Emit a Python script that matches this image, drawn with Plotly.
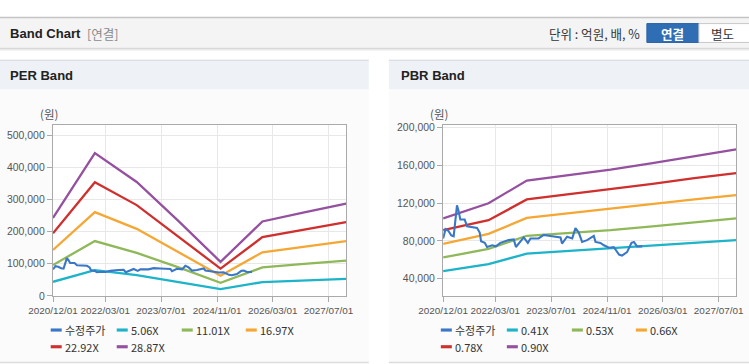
import plotly.graph_objects as go

# ---------------- data ----------------
price_dates = ["2020-12-01", "2020-12-22", "2021-01-15", "2021-02-10", "2021-03-03", "2021-04-01",
               "2021-04-15", "2021-04-30", "2021-06-07", "2021-06-28", "2021-09-23", "2021-10-16",
               "2021-10-28", "2021-11-29", "2021-12-19", "2022-02-02", "2022-03-06", "2022-04-14",
               "2022-06-25", "2022-08-09", "2022-08-28", "2022-10-06", "2022-11-04", "2022-12-10",
               "2023-01-02", "2023-03-13", "2023-04-28", "2023-06-25", "2023-09-21", "2023-10-04",
               "2023-11-17", "2024-01-01", "2024-01-29", "2024-02-27", "2024-03-27", "2024-05-10",
               "2024-07-07", "2024-07-22", "2024-09-03", "2024-10-03", "2024-11-16", "2024-12-28",
               "2025-02-12", "2025-03-10", "2025-04-23", "2025-06-01", "2025-06-22", "2025-07-19",
               "2025-09-02"]
price = [82700, 92500, 90800, 86000, 85000, 117800, 111600, 102700, 102700, 95500, 93700, 88900,
         79800, 78000, 73600, 75400, 74300, 78000, 80900, 81600, 73600, 79000, 83800, 78000,
         82700, 82700, 86400, 85300, 83800, 77300, 84500, 82700, 93600, 88900, 79000, 80900,
         85300, 79000, 78000, 75400, 72800, 73600, 65600, 64500, 68200, 78000, 79000, 74300,
         74300]

per_dates = ["2020-12-01", "2021-12-01", "2022-12-01", "2023-12-01",
             "2024-12-01", "2025-12-01", "2026-12-01", "2027-12-01"]
per_5_06 = [44000, 80000, 65000, 43000, 21000, 43000, 48000, 53000]
per_11_01 = [96000, 171000, 134000, 89000, 41000, 89000, 100000, 110000]
per_16_97 = [143000, 261000, 209000, 137000, 63000, 136000, 153000, 171000]
per_22_92 = [195000, 354000, 283000, 185000, 85000, 183000, 206000, 230000]
per_28_87 = [243000, 445000, 355000, 233000, 106000, 232000, 260000, 288000]

pbr_dates = ["2020-12-01", "2022-01-01", "2022-12-01", "2023-12-01",
             "2024-12-01", "2025-12-01", "2026-12-01", "2027-12-01"]
pbr_0_41 = [48000, 55500, 66500, 69500, 72000, 75000, 78000, 80800]
pbr_0_53 = [62500, 71500, 85500, 88500, 91500, 95500, 100000, 104000]
pbr_0_66 = [77000, 87500, 104500, 109500, 114000, 119000, 124000, 128600]
pbr_0_78 = [91500, 102000, 124000, 129500, 134500, 140500, 146500, 152000]
pbr_0_90 = [104000, 120000, 144000, 150000, 155500, 162500, 169500, 177000]

x_tickvals = ["2020-12-01", "2022-03-01", "2023-07-01", "2024-11-01", "2026-03-01", "2027-07-01"]
x_ticktext = ["2020/12/01", "2022/03/01", "2023/07/01", "2024/11/01", "2026/03/01", "2027/07/01"]
per_yticks = [0, 100000, 200000, 300000, 400000, 500000]
pbr_yticks = [40000, 80000, 120000, 160000, 200000]

per_names = ["수정주가", "5.06X", "11.01X", "16.97X", "22.92X", "28.87X"]
pbr_names = ["수정주가", "0.41X", "0.53X", "0.66X", "0.78X", "0.90X"]
colors = ["#3a77c7", "#1db3c8", "#8fb859", "#f5a733", "#cf2f2d", "#95509f"]

# ---------------- figure ----------------
W, H = 749, 364
# measured mapping between page pixels and the photographed picture
S, OX, OY = 0.957, 26.3, 8.3


def wx(X):
    return (X - OX) / S


def wy(Y):
    return (Y - OY) / S


def px(X):
    return wx(X) / W


def py(Y):
    return 1 - wy(Y) / H


def fs(v):
    return v / S


fig = go.Figure()

per_series = [per_5_06, per_11_01, per_16_97, per_22_92, per_28_87]
pbr_series = [pbr_0_41, pbr_0_53, pbr_0_66, pbr_0_78, pbr_0_90]

for i, s in enumerate(per_series):
    fig.add_trace(go.Scatter(x=per_dates, y=s, mode="lines", name=per_names[i + 1],
                             line=dict(color=colors[i + 1], width=fs(2.2)), xaxis="x", yaxis="y",
                             showlegend=False))
fig.add_trace(go.Scatter(x=price_dates, y=price, mode="lines", name=per_names[0],
                         line=dict(color=colors[0], width=fs(2)), xaxis="x", yaxis="y",
                         showlegend=False))

for i, s in enumerate(pbr_series):
    fig.add_trace(go.Scatter(x=pbr_dates, y=s, mode="lines", name=pbr_names[i + 1],
                             line=dict(color=colors[i + 1], width=fs(2.2)), xaxis="x2", yaxis="y2",
                             showlegend=False))
fig.add_trace(go.Scatter(x=price_dates, y=price, mode="lines", name=pbr_names[0],
                         line=dict(color=colors[0], width=fs(2)), xaxis="x2", yaxis="y2",
                         showlegend=False))

axis_common = dict(showline=True, linecolor="#aaaaaa", linewidth=1, mirror=True,
                   showgrid=True, gridcolor="#e8e8e8", gridwidth=1,
                   ticks="outside", ticklen=fs(5), tickcolor="#aaaaaa",
                   zeroline=False, fixedrange=True, tickangle=0)
xfont = dict(family="Liberation Sans, Arial, sans-serif", size=fs(9.5), color="#555555")
yfont = dict(family="Liberation Sans, Arial, sans-serif", size=fs(10), color="#555555")

ydom = [py(295.7), py(128.3)]
fig.update_layout(
    xaxis=dict(domain=[px(54.3), px(347.3)], type="date", range=["2020-12-01", "2027-12-01"],
               tickvals=x_tickvals, ticktext=x_ticktext, anchor="y", tickfont=xfont,
               **axis_common),
    yaxis=dict(domain=ydom, range=[0, 531800], tickvals=per_yticks,
               tickformat=",d", anchor="x", tickfont=yfont, **axis_common),
    xaxis2=dict(domain=[px(444.3), px(737.3)], type="date", range=["2020-12-01", "2027-12-01"],
                tickvals=x_tickvals, ticktext=x_ticktext, anchor="y2", tickfont=xfont,
                **axis_common),
    yaxis2=dict(domain=ydom, range=[21800, 202600], tickvals=pbr_yticks,
                tickformat=",d", anchor="x2", tickfont=yfont, **axis_common),
)

shapes = []


def rect(x0, y0, x1, y1, fill, line_color=None, lw=0, layer="below"):
    shapes.append(dict(type="rect", xref="paper", yref="paper",
                       x0=px(x0), x1=px(x1), y0=py(y1), y1=py(y0),
                       fillcolor=fill, line=dict(color=line_color or fill, width=lw),
                       layer=layer))


def hline(x0, x1, y, color, lw=1):
    shapes.append(dict(type="line", xref="paper", yref="paper",
                       x0=px(x0), x1=px(x1), y0=py(y), y1=py(y),
                       line=dict(color=color, width=lw), layer="below"))


# header bar
rect(-40, 22, 790, 52.5, "#f4f4f4")
hline(-40, 790, 22.5, "#c4c4c4", 1.5)
hline(-40, 790, 52.8, "#cfcfcf", 1)
hline(-40, 790, 53.8, "#e6e6e6", 1)
hline(-40, 790, 54.8, "#f3f3f3", 1)
# buttons
rect(648, 28.5, 700, 47, "#2f6eb5", "#2a62a3", 1)
rect(700, 28.5, 790, 47, "#ffffff", "#c8c8c8", 1)

# panels
for (x0, x1) in [(-40, 370), (390, 790)]:
    rect(x0, 64, x1, 361, "#fbfbfb")
    rect(x0, 64, x1, 93, "#eef1f6")
    hline(x0, x1, 64.5, "#d6d9de", 1)
    hline(x0, x1, 361, "#dcdcdc", 1.5)

# white plot areas
rect(54.3, 128.3, 347.3, 295.7, "#ffffff")
rect(444.3, 128.3, 737.3, 295.7, "#ffffff")

annotations = []


def text(x, y, s, size=12, color="#333333", family="Noto Sans CJK KR, sans-serif",
         xanchor="left", bold=False, yanchor="middle"):
    if bold:
        s = "<b>" + s + "</b>"
    annotations.append(dict(xref="paper", yref="paper", x=px(x), y=py(y), text=s,
                            showarrow=False, xanchor=xanchor, yanchor=yanchor, align="left",
                            borderpad=0,
                            font=dict(size=fs(size), color=color, family=family)))


text(10, 38, "Band Chart", 12.5, "#222222", "Liberation Sans, Arial, sans-serif", bold=True)
text(87, 38.5, "[연결]", 12, "#8a8a8a")
text(642, 38.5, "단위 : 억원, 배, %", 12, "#333333", xanchor="right")
text(674, 38, "연결", 12, "#ffffff", xanchor="center", bold=True)
text(724, 38, "별도", 12, "#333333", xanchor="center")
text(10, 79, "PER Band", 12.5, "#222222", "Liberation Sans, Arial, sans-serif", bold=True)
text(401, 79, "PBR Band", 12.5, "#222222", "Liberation Sans, Arial, sans-serif", bold=True)
text(50, 117, "(원)", 11, "#555555", xanchor="center")
text(440, 117, "(원)", 11, "#555555", xanchor="center")

# legends
leg_cols = [0, 66, 131, 195]
leg_rows = [329.2, 345.6]
for base, names in [(52, per_names), (442, pbr_names)]:
    for i, nm in enumerate(names):
        row, col = divmod(i, 4)
        x0 = base + leg_cols[col]
        yy = leg_rows[row]
        shapes.append(dict(type="line", xref="paper", yref="paper",
                           x0=px(x0), x1=px(x0 + 11), y0=py(yy), y1=py(yy),
                           line=dict(color=colors[i], width=fs(3)), layer="above"))
        text(x0 + 13, yy, nm, 10.5, "#333333")

fig.update_layout(shapes=shapes, annotations=annotations,
                  width=W, height=H, autosize=False,
                  margin=dict(l=0, r=0, t=0, b=0),
                  paper_bgcolor="#ffffff", plot_bgcolor="rgba(0,0,0,0)",
                  showlegend=False)

fig.write_html("out.html", config={"displayModeBar": False, "responsive": False},
               post_script="document.body.style.margin='0';"
                           "document.body.style.overflow='hidden';")
